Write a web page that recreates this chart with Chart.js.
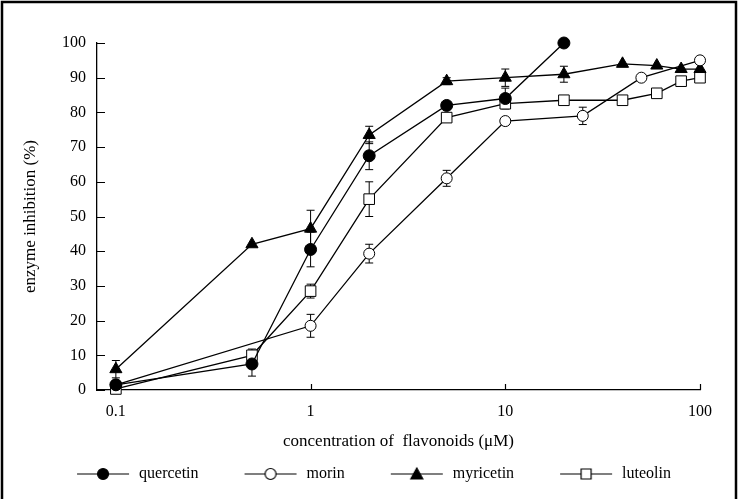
<!DOCTYPE html>
<html>
<head>
<meta charset="utf-8">
<script src="https://cdn.jsdelivr.net/npm/chart.js@4"></script>
<style>
  html, body { margin: 0; padding: 0; background: #fff; }
  canvas { display: block; }
</style>
</head>
<body>
<canvas id="chart" width="738" height="499"></canvas>
<script>
// concentrations (uM), inhibition (%), error half-widths
const quercetinX = [0.1, 0.5, 1, 2, 5, 10, 20];
const quercetinY = [1.5, 7.5, 40.5, 67.5, 82, 84, 100];
const quercetinErr = [null, 3.5, 5, 4, null, 3, null];

const morinX = [0.1, 1, 2, 5, 10, 25, 50, 100];
const morinY = [1.5, 18.5, 39.3, 61, 77.5, 79, 90, 95];
const morinErr = [null, 3.3, 2.7, 2.3, null, 2.5, null, null];

const myricetinX = [0.1, 0.5, 1, 2, 5, 10, 20, 40, 60, 80, 100];
const myricetinY = [6, 42, 46.5, 73.5, 89, 90, 91, 94, 93.5, 92.5, 92.5];
const myricetinErr = [2.5, null, 5.3, 2.5, 1, 2.5, 2.3, null, null, null, null];

const luteolinX = [0.1, 0.5, 1, 2, 5, 10, 20, 40, 60, 80, 100];
const luteolinY = [0.3, 10, 28.5, 55, 78.5, 82.5, 83.5, 83.5, 85.5, 89, 90];
const luteolinErr = [null, 1.8, 2, 5, null, null, null, null, null, null, null];

const seriesNames = ['quercetin', 'morin', 'myricetin', 'luteolin'];
const xTickValues = [0.1, 1, 10, 100];

const serif = '"Liberation Serif", "Times New Roman", serif';

function points(xs, ys, errs) {
	return xs.map((x, i) => ({ x: x, y: ys[i], err: errs[i] }));
}

function makeDataset(label, data, style, radius, fill) {
	return {
		label: label,
		data: data,
		borderColor: '#000',
		borderWidth: 1.3,
		backgroundColor: fill,
		pointStyle: style,
		pointRadius: radius,
		pointHoverRadius: radius,
		pointBorderColor: '#000',
		pointBackgroundColor: fill,
		pointBorderWidth: 1,
		tension: 0,
		clip: false,
	};
}

// legend sample: short line with the marker in the middle
function legendSample(style, fill) {
	const c = document.createElement('canvas');
	c.width = 90;
	c.height = 16;
	const g = c.getContext('2d');
	g.strokeStyle = '#000';
	g.lineWidth = 1.2;
	g.beginPath();
	g.moveTo(36, 8);
	g.lineTo(88, 8);
	g.stroke();
	g.fillStyle = fill;
	g.beginPath();
	if (style === 'circle') {
		g.arc(62, 8, 5.5, 0, Math.PI * 2);
	} else if (style === 'triangle') {
		g.moveTo(62, 2);
		g.lineTo(68, 13);
		g.lineTo(56, 13);
		g.closePath();
	} else {
		g.rect(57, 3, 10, 10);
	}
	g.fill();
	g.stroke();
	return c;
}

const errorBars = {
	id: 'errorBars',
	beforeDatasetsDraw(chart) {
		const ctx = chart.ctx;
		const xs = chart.scales.x;
		const ys = chart.scales.y;
		ctx.save();
		ctx.strokeStyle = '#000';
		ctx.lineWidth = 1;
		chart.data.datasets.forEach((ds) => {
			ds.data.forEach((p) => {
				if (p.err == null) return;
				const px = xs.getPixelForValue(p.x);
				const top = ys.getPixelForValue(p.y + p.err);
				const bot = ys.getPixelForValue(p.y - p.err);
				ctx.beginPath();
				ctx.moveTo(px, top);
				ctx.lineTo(px, bot);
				ctx.moveTo(px - 4, top);
				ctx.lineTo(px + 4, top);
				ctx.moveTo(px - 4, bot);
				ctx.lineTo(px + 4, bot);
				ctx.stroke();
			});
		});
		ctx.restore();
	},
};

const frameAndTicks = {
	id: 'frameAndTicks',
	afterDraw(chart) {
		const ctx = chart.ctx;
		const xs = chart.scales.x;
		const ys = chart.scales.y;
		const area = chart.chartArea;
		ctx.save();
		ctx.strokeStyle = '#000';
		ctx.lineWidth = 1.2;
		ctx.beginPath();
		ys.ticks.forEach((t) => {
			const py = Math.round(ys.getPixelForValue(t.value)) + 0.5;
			ctx.moveTo(area.left, py);
			ctx.lineTo(area.left + 8, py);
		});
		xs.ticks.forEach((t) => {
			const px = Math.round(xs.getPixelForValue(t.value)) + 0.5;
			ctx.moveTo(px, area.bottom);
			ctx.lineTo(px, area.bottom - 6);
		});
		ctx.stroke();
		// outer frame
		ctx.lineWidth = 2.5;
		ctx.beginPath();
		ctx.moveTo(2, 499);
		ctx.lineTo(2, 2);
		ctx.lineTo(736, 2);
		ctx.lineTo(736, 499);
		ctx.stroke();
		ctx.restore();
	},
};

const styles = ['circle', 'circle', 'triangle', 'rect'];
const fills = ['#000', '#fff', '#000', '#fff'];
const legendImgs = styles.map((s, i) => legendSample(s, fills[i]));

const chart = new Chart(document.getElementById('chart'), {
	type: 'line',
	data: {
		datasets: [
			makeDataset(seriesNames[0], points(quercetinX, quercetinY, quercetinErr), 'circle', 6, '#000'),
			makeDataset(seriesNames[1], points(morinX, morinY, morinErr), 'circle', 5.5, '#fff'),
			makeDataset(seriesNames[2], points(myricetinX, myricetinY, myricetinErr), 'triangle', 7, '#000'),
			makeDataset(seriesNames[3], points(luteolinX, luteolinY, luteolinErr), 'rect', 7.5, '#fff'),
		],
	},
	options: {
		responsive: false,
		animation: false,
		devicePixelRatio: 1,
		layout: {
			padding: { top: 43, left: 12, right: 38, bottom: 7 },
		},
		scales: {
			x: {
				type: 'logarithmic',
				min: 0.08,
				max: 100,
				afterBuildTicks(scale) {
					scale.ticks = xTickValues.map((v) => ({ value: v }));
				},
				afterFit(scale) {
					scale.height = 66;
				},
				grid: { display: false, drawTicks: false },
				border: { display: true, color: '#000', width: 1.3 },
				ticks: {
					color: '#000',
					padding: 12,
					font: { family: serif, size: 16 },
					maxRotation: 0,
					autoSkip: false,
					callback: (v) => String(v),
				},
				title: {
					display: true,
					text: 'concentration of  flavonoids (\u03bcM)',
					color: '#000',
					font: { family: serif, size: 17 },
					padding: { top: 4, bottom: 4 },
				},
			},
			y: {
				min: 0,
				max: 100,
				afterFit(scale) {
					scale.width = 85;
				},
				grid: { display: false, drawTicks: false },
				border: { display: true, color: '#000', width: 1.3 },
				ticks: {
					stepSize: 10,
					color: '#000',
					padding: 11,
					font: { family: serif, size: 16 },
				},
				title: {
					display: true,
					text: 'enzyme inhibition (%)',
					color: '#000',
					font: { family: serif, size: 17 },
					padding: { top: 8, bottom: 4 },
				},
			},
		},
		plugins: {
			legend: {
				position: 'bottom',
				labels: {
					usePointStyle: true,
					pointStyleWidth: 90,
					padding: 10,
					color: '#000',
					font: { family: serif, size: 16 },
					generateLabels(chart) {
						const items = Chart.defaults.plugins.legend.labels.generateLabels(chart);
						items.forEach((it, i) => {
							it.pointStyle = legendImgs[i];
						});
						return items;
					},
				},
			},
			tooltip: { enabled: false },
		},
	},
	plugins: [errorBars, frameAndTicks],
});
</script>
</body>
</html>
